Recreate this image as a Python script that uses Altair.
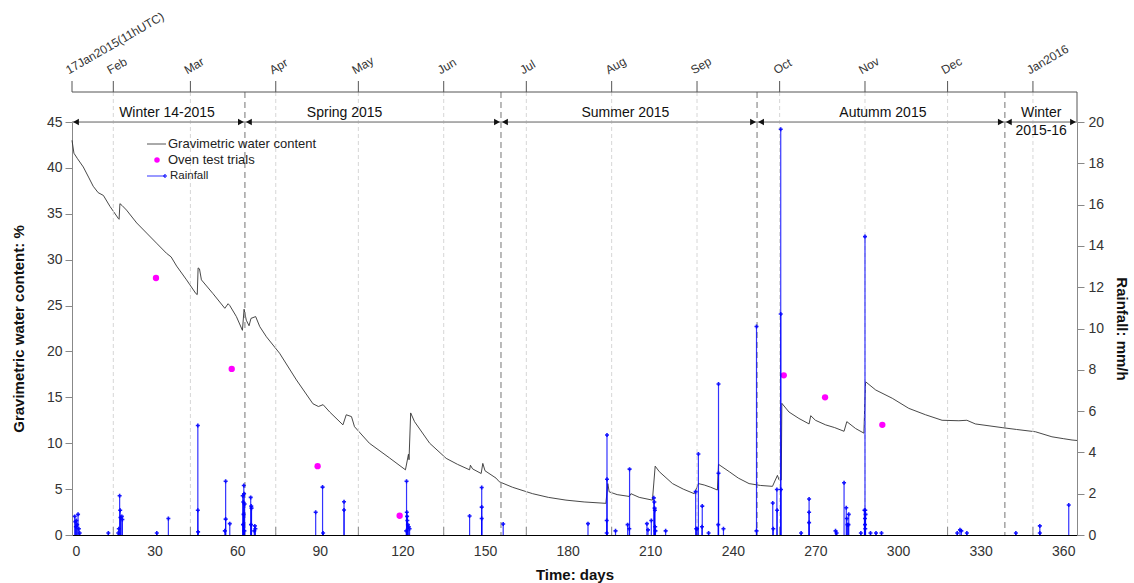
import altair as alt
import pandas as pd

# ---------------- data ----------------
gwc_day = [0.0, 0.7, 2.0, 4.1, 6.0, 7.7, 9.5, 11.4, 13.8, 16.8, 17.1, 17.4, 18.2, 19.8, 23.5,
           27.1, 30.7, 34.3, 36.0, 38.0, 41.6, 45.0, 45.5, 45.8, 46.3, 47.0, 51.2, 55.5, 56.7,
           57.3, 59.7, 61.9, 62.5, 63.3, 64.3, 65.0, 66.7, 68.2, 70.6, 75.4, 81.5, 87.5, 89.5,
           91.2, 93.6, 98.4, 99.6, 101.5, 102.6, 108.0, 115.3, 121.1, 122.2, 122.4, 123.0, 124.4,
           129.9, 135.9, 140.0, 144.4, 144.7, 145.5, 148.6, 149.2, 150.0, 154.0, 155.2, 160.0,
           167.3, 173.0, 179.4, 186.0, 193.9, 194.6, 195.1, 198.0, 202.4, 203.0, 206.0, 210.8,
           211.8, 213.3, 218.1, 222.0, 226.0, 227.5, 229.6, 232.0, 234.4, 234.8, 238.7, 242.0,
           245.9, 250.0, 254.4, 256.2, 256.8, 257.6, 257.8, 260.4, 264.0, 267.7, 268.3, 270.0,
           273.7, 277.0, 280.4, 281.4, 284.6, 287.6, 288.2, 291.9, 297.9, 303.9, 310.0, 316.0,
           322.1, 325.0, 328.1, 337.8, 343.0, 349.9, 355.9, 360.0, 363.2, 365.0]
gwc_val = [43.0, 41.6, 41.0, 40.1, 39.0, 38.0, 37.3, 37.0, 35.8, 34.5, 34.4, 36.1, 35.9, 35.4, 34.0,
           32.9, 31.8, 30.7, 30.3, 29.3, 27.8, 26.3, 26.2, 29.1, 29.0, 27.8, 26.3, 24.7, 25.2,
           25.0, 23.8, 22.3, 24.6, 23.4, 22.8, 23.6, 23.8, 22.7, 21.6, 19.8, 16.9, 14.3, 14.0,
           14.2, 13.4, 12.0, 13.1, 12.9, 11.8, 10.0, 8.4, 7.1, 8.8, 8.2, 13.3, 12.35,
           10.0, 8.35, 7.7, 7.1, 7.6, 7.2, 6.7, 7.8, 7.0, 6.2, 5.8, 5.2,
           4.5, 4.1, 3.8, 3.6, 3.45, 5.6, 4.7, 4.4, 4.2, 4.5, 4.1, 3.8,
           7.5, 6.9, 5.6, 5.0, 4.5, 5.6, 5.45, 5.2, 4.9, 7.7, 6.9, 6.2,
           5.6, 5.4, 5.3, 6.5, 6.0, 6.0, 14.35, 13.4, 12.7, 12.1, 13.0, 12.5,
           12.0, 11.7, 11.3, 12.35, 11.6, 11.1, 16.7, 15.8, 14.9, 13.8, 13.1, 12.5,
           12.45, 12.5, 12.1, 11.7, 11.5, 11.25, 10.7, 10.5, 10.35, 10.3]

oven_day = [30.5, 58.0, 89.2, 119.0, 258.5, 273.5, 294.3]
oven_val = [28.0, 18.1, 7.5, 2.1, 17.4, 15.0, 12.0]

rain_events = [
    (1.0, 0.9), (1.2, 0.65), (1.4, 0.4), (1.6, 0.7), (1.9, 0.5), (2.2, 1.0), (2.5, 0.3), (2.8, 0.1),
    (13.2, 0.1),
    (16.8, 0.1), (17.0, 0.3), (17.3, 1.9), (17.5, 1.2), (17.6, 0.85), (18.1, 0.9), (18.3, 0.75),
    (30.8, 0.1), (35.0, 0.8),
    (45.7, 5.3), (45.7, 1.2), (45.8, 0.15),
    (55.5, 0.2), (55.8, 2.6), (55.8, 0.77), (57.3, 0.55),
    (62.0, 1.9), (62.1, 0.5), (62.2, 1.6), (62.3, 1.0), (62.4, 2.4), (62.5, 2.0), (62.6, 0.2), (62.7, 1.5),
    (64.9, 1.82), (65.0, 0.5), (65.1, 1.4), (65.2, 1.3), (66.2, 0.2), (66.4, 0.44), (66.6, 0.3),
    (88.5, 1.1), (91.0, 2.32), (91.2, 0.1), (98.8, 1.61), (98.8, 1.21),
    (121.4, 0.2), (121.5, 2.6), (121.6, 1.1), (121.7, 0.9), (121.8, 0.7), (122.0, 0.5), (122.3, 0.4), (122.6, 0.3),
    (144.4, 0.92), (148.8, 2.3), (148.8, 1.35), (148.8, 0.8), (156.6, 0.53),
    (187.4, 0.55),
    (194.2, 0.7), (194.2, 0.1), (194.3, 4.84), (194.3, 2.7),
    (197.4, 0.2), (201.8, 0.5), (202.4, 0.3), (202.5, 3.19),
    (208.8, 0.55), (209.2, 0.25), (210.4, 0.7), (211.3, 1.8), (211.5, 1.6), (211.6, 1.3), (211.7, 1.2),
    (211.8, 0.4), (211.9, 0.2), (215.6, 0.2),
    (226.5, 2.1), (226.7, 0.3), (227.0, 0.3), (227.5, 3.92), (228.8, 0.4), (228.9, 1.4), (231.2, 0.1),
    (234.7, 0.5), (234.8, 7.31), (234.8, 2.99), (236.6, 0.3),
    (248.6, 10.1), (248.6, 0.2),
    (254.5, 1.55), (254.7, 0.3), (256.0, 2.2), (256.1, 1.2), (257.4, 19.65), (257.4, 10.7), (257.5, 2.2),
    (264.8, 0.1), (267.7, 1.74), (267.7, 1.1), (267.7, 0.6),
    (277.3, 0.2), (277.7, 0.1),
    (280.4, 2.53), (281.2, 1.32), (281.4, 0.8), (281.6, 0.5), (282.0, 0.5), (282.1, 1.0),
    (286.5, 0.1),
    (287.8, 1.2), (288.0, 14.45), (288.0, 0.8), (288.0, 0.5), (288.1, 1.2), (288.1, 0.3), (288.2, 1.0),
    (290.0, 0.1), (292.0, 0.1), (294.0, 0.1),
    (321.5, 0.1), (322.5, 0.25), (323.0, 0.2), (325.0, 0.1),
    (342.8, 0.1), (351.5, 0.44), (351.5, 0.1), (362.0, 1.45),
]

month_day = [0, 15, 43, 74, 104, 135, 165, 196, 227, 257, 288, 318, 349]
month_label = ["17Jan2015(11hUTC)", "Feb", "Mar", "Apr", "May", "Jun", "Jul",
               "Aug", "Sep", "Oct", "Nov", "Dec", "Jan2016"]

season_start = [0, 62.8, 155.8, 248.8, 338.8]
season_end = [62.8, 155.8, 248.8, 338.8, 365.0]
season_label = ["Winter 14-2015", "Spring 2015", "Summer 2015", "Autumm 2015", "Winter\n2015-16"]
season_label_day = [34.5, 99.0, 201.0, 294.5, 352.0]
season_bounds = [62.8, 155.8, 248.8, 338.8]

x_ticks = list(range(0, 361, 30))
yl_ticks = list(range(0, 46, 5))
yr_ticks = list(range(0, 21, 2))

# ---------------- tables ----------------
gwc_df = pd.DataFrame({"day": gwc_day, "gwc": gwc_val})
oven_df = pd.DataFrame({"day": oven_day, "gwc": oven_val})
rain_df = pd.DataFrame(rain_events, columns=["day", "rain"])
month_df = pd.DataFrame({"day": month_day, "label": month_label})
month_grid_df = month_df[month_df["day"] > 0]
season_df = pd.DataFrame({"start": season_start, "end": season_end,
                          "label": season_label, "mid": season_label_day})
season_one = season_df[~season_df["label"].str.contains("\n")]
season_two = season_df[season_df["label"].str.contains("\n")]
bound_df = pd.DataFrame({"day": season_bounds})
dummy = pd.DataFrame({"a": [0]})

FONT = "Liberation Sans"
XS = alt.Scale(domain=[0, 365], nice=False, zero=False)
YL = alt.Scale(domain=[0, 45], nice=False)
YR = alt.Scale(domain=[0, 20], nice=False)
H = 413

XAX = alt.Axis(
    values=x_ticks, tickSize=0, domainColor="#000", domainWidth=1.2, grid=False,
    labelFontSize=14, labelColor="#333", labelPadding=9, labelFont=FONT,
    title="Time: days", titleFontSize=15, titleFontWeight="bold", titleFont=FONT,
    titlePadding=9, titleColor="#111")


def xq(field):
    return alt.X(field, type="quantitative", scale=XS, axis=XAX)


# month grid (light dashed)
month_grid = alt.Chart(month_grid_df).mark_rule(
    color="#d6d6d6", strokeDash=[4, 3], strokeWidth=1
).encode(x=xq("day"), y=alt.value(-30), y2=alt.value(H))

# season boundaries (darker dashed)
season_grid = alt.Chart(bound_df).mark_rule(
    color="#8c8c8c", strokeDash=[6, 4], strokeWidth=1.2
).encode(x=xq("day"), y=alt.value(-30), y2=alt.value(H))

# top month axis
top_line = alt.Chart(dummy).mark_rule(color="#555", strokeWidth=1).encode(
    x=alt.X(datum=0, type="quantitative", scale=XS, axis=XAX),
    x2=alt.X2(datum=365), y=alt.value(-30))
top_ticks = alt.Chart(month_df).mark_rule(color="#555", strokeWidth=1).encode(
    x=xq("day"), y=alt.value(-41), y2=alt.value(-30))
top_labels = alt.Chart(month_df).mark_text(
    angle=330, align="left", baseline="bottom", fontSize=12, color="#333", font=FONT, dx=-2
).encode(x=xq("day"), y=alt.value(-46), text="label:N")
right_edge = alt.Chart(dummy).mark_rule(color="#555", strokeWidth=1).encode(
    x=alt.X(datum=365, type="quantitative", scale=XS, axis=XAX),
    y=alt.value(-30), y2=alt.value(0))

# bottom month ticks
bottom_ticks = alt.Chart(month_grid_df).mark_rule(color="#888", strokeWidth=1).encode(
    x=xq("day"), y=alt.value(H - 8), y2=alt.value(H))

# season arrows
season_line = alt.Chart(season_df).mark_rule(color="#9a9a9a", strokeWidth=1.5).encode(
    x=xq("start"), x2="end:Q", y=alt.value(0))
arrow_l = alt.Chart(season_df).mark_point(
    shape="triangle-left", filled=True, color="#111", size=45, opacity=1
).encode(x=xq("start"), y=alt.value(0), xOffset=alt.value(4))
arrow_r = alt.Chart(season_df).mark_point(
    shape="triangle-right", filled=True, color="#111", size=45, opacity=1
).encode(x=xq("end"), y=alt.value(0), xOffset=alt.value(-4))
season_text = alt.Chart(season_one).mark_text(
    fontSize=14, color="#111", font=FONT, baseline="middle"
).encode(x=xq("mid"), y=alt.value(-9), text="label:N")
season_text2 = alt.Chart(season_two).mark_text(
    fontSize=14, color="#111", font=FONT, baseline="middle", lineBreak="\n", lineHeight=18
).encode(x=xq("mid"), y=alt.value(-9), text="label:N")

# gravimetric water content (carries left axis)
gwc_line = alt.Chart(gwc_df).mark_line(color="#333333", strokeWidth=0.9).encode(
    x=xq("day"),
    y=alt.Y("gwc:Q", scale=YL, axis=alt.Axis(
        orient="left", values=yl_ticks, tickSize=7, tickColor="#888", domainColor="#888",
        grid=False, labelFontSize=14, labelColor="#333", labelFont=FONT, labelPadding=3,
        title="Gravimetric water content: %", titleFontSize=15, titleFontWeight="bold",
        titleFont=FONT, titlePadding=20, titleColor="#111")),
)

oven_pts = alt.Chart(oven_df).mark_point(
    filled=True, color="#ff00ff", size=40, opacity=1
).encode(x=xq("day"), y=alt.Y("gwc:Q", scale=YL, axis=None))

# rainfall (carries right axis)
rain_stems = alt.Chart(rain_df).mark_rule(color="#0000ff", strokeWidth=1.2, opacity=0.8).encode(
    x=xq("day"),
    y=alt.Y("rain:Q", scale=YR, axis=alt.Axis(
        orient="right", values=yr_ticks, tickSize=7, tickColor="#888", domainColor="#888",
        grid=False, labelFontSize=14, labelColor="#333", labelFont=FONT, labelPadding=4,
        title="Rainfall: mm/h", titleFontSize=15, titleFontWeight="bold", titleFont=FONT,
        titleAngle=90, titlePadding=10, titleColor="#111")),
    y2=alt.Y2(datum=0),
)
rain_marks = alt.Chart(rain_df).mark_point(
    shape="cross", filled=True, color="#0000ff", size=16, opacity=0.9
).encode(x=xq("day"), y=alt.Y("rain:Q", scale=YR, axis=None))

# manual legend
leg_gwc = alt.Chart(dummy).mark_rule(color="#555", strokeWidth=1).encode(
    x=alt.value(75), x2=alt.value(94), y=alt.value(22))
leg_gwc_t = alt.Chart(dummy).mark_text(
    text="Gravimetric water content", align="left", baseline="middle", fontSize=13,
    font=FONT, color="#222").encode(x=alt.value(96), y=alt.value(22))
leg_oven = alt.Chart(dummy).mark_point(filled=True, color="#ff00ff", size=30, opacity=1).encode(
    x=alt.value(85), y=alt.value(38))
leg_oven_t = alt.Chart(dummy).mark_text(
    text="Oven test trials", align="left", baseline="middle", fontSize=13,
    font=FONT, color="#222").encode(x=alt.value(96), y=alt.value(38))
leg_rain = alt.Chart(dummy).mark_rule(color="#0000ff", strokeWidth=1, opacity=0.8).encode(
    x=alt.value(75), x2=alt.value(93), y=alt.value(54))
leg_rain_m = alt.Chart(dummy).mark_point(shape="cross", filled=True, color="#0000ff", size=16).encode(
    x=alt.value(93), y=alt.value(54))
leg_rain_t = alt.Chart(dummy).mark_text(
    text="Rainfall", align="left", baseline="middle", fontSize=11.5,
    font=FONT, color="#222").encode(x=alt.value(98), y=alt.value(54))

chart = alt.layer(
    gwc_line, month_grid, season_grid, top_line, top_ticks, top_labels, right_edge, bottom_ticks,
    season_line, arrow_l, arrow_r, season_text, season_text2,
    oven_pts, rain_stems, rain_marks,
    leg_gwc, leg_gwc_t, leg_oven, leg_oven_t, leg_rain, leg_rain_m, leg_rain_t,
).resolve_scale(y="independent").properties(
    width=1005, height=H,
    autosize=alt.AutoSizeParams(type="none"),
    padding={"left": 72, "top": 122, "right": 57, "bottom": 48},
).configure_view(stroke=None).configure(font=FONT, background="white")

chart.save("out.html", embed_options={"renderer": "svg", "actions": False})
